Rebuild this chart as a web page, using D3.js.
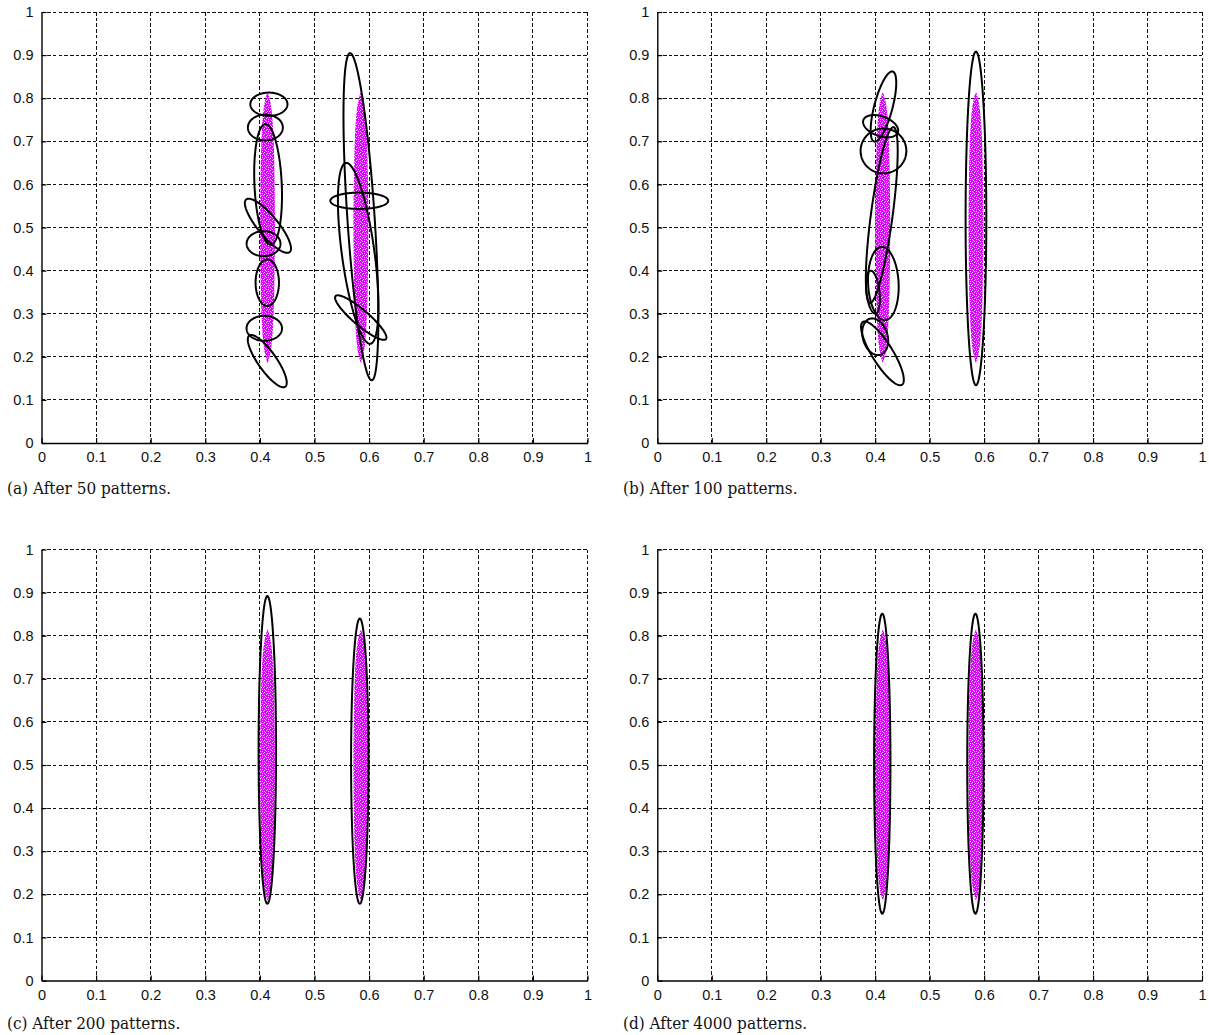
<!DOCTYPE html>
<html>
<head>
<meta charset="utf-8">
<script src="https://cdn.jsdelivr.net/npm/d3@7"></script>
<style>
  body { margin: 0; background: #fff; }
  svg { display: block; }
  .caption { font-family: "DejaVu Serif Condensed", "DejaVu Serif", serif; font-size: 17px; }
</style>
</head>
<body>
<svg id="fig" width="1209" height="1035"></svg>
<script>
// Axis ticks shared by all four panels
const tickValues = [0, 0.1, 0.2, 0.3, 0.4, 0.5, 0.6, 0.7, 0.8, 0.9, 1];
const tickLabels = ["0", "0.1", "0.2", "0.3", "0.4", "0.5", "0.6", "0.7", "0.8", "0.9", "1"];

const captions = [
  "(a) After 50 patterns.",
  "(b) After 100 patterns.",
  "(c) After 200 patterns.",
  "(d) After 4000 patterns."
];

// Two elongated input clusters: centre x of each band, and the band's
// half width (x units) at a set of heights (y units)
const clusterX = [0.414, 0.585];
const bandY =         [0.185, 0.20,  0.23,  0.27,  0.32,  0.40,  0.50,  0.60,  0.68,  0.74,  0.78,  0.80,  0.815];
const bandHalfWidth = [0.000, 0.004, 0.008, 0.010, 0.012, 0.013, 0.014, 0.013, 0.012, 0.010, 0.007, 0.004, 0.000];

// Category ellipses: [centre x, centre y, semi-major, semi-minor, major-axis angle in degrees]
const ellipsesA = [
  [0.4165, 0.786, 0.034, 0.027, 0],
  [0.410, 0.732, 0.032, 0.030, 0],
  [0.415, 0.600, 0.140, 0.025, 92],
  [0.4147, 0.504, 0.073, 0.020, 122],
  [0.4067, 0.4625, 0.031, 0.029, 0],
  [0.4135, 0.372, 0.054, 0.0214, 90],
  [0.408, 0.266, 0.0325, 0.029, 0],
  [0.4135, 0.190, 0.068, 0.018, 118],
  [0.585, 0.525, 0.380, 0.025, 93],
  [0.580, 0.440, 0.211, 0.030, 96],
  [0.582, 0.562, 0.053, 0.019, 0],
  [0.5847, 0.291, 0.068, 0.016, 132]
];

const ellipsesB = [
  [0.4152, 0.7806, 0.083, 0.017, 78.5],
  [0.410, 0.735, 0.035, 0.022, -30],
  [0.4152, 0.6777, 0.052, 0.042, 90],
  [0.4121, 0.529, 0.205, 0.020, 84],
  [0.415, 0.370, 0.085, 0.028, 92],
  [0.396, 0.350, 0.050, 0.012, 95],
  [0.400, 0.2466, 0.043, 0.023, 100],
  [0.4133, 0.208, 0.0813, 0.020, 115.4],
  [0.585, 0.521, 0.387, 0.019, 90]
];

const ellipsesC = [
  [0.4136, 0.535, 0.357, 0.016, 90],
  [0.583, 0.509, 0.331, 0.016, 90]
];

const ellipsesD = [
  [0.413, 0.503, 0.348, 0.015, 90],
  [0.584, 0.503, 0.348, 0.015, 90]
];

const panelEllipses = [ellipsesA, ellipsesB, ellipsesC, ellipsesD];

// Panel frames (pixel rectangles of the plotting area)
const frames = [
  { x0: 41.5,  x1: 587.5, yTop: 12,    yBot: 443 },
  { x0: 657.3, x1: 1202,  yTop: 12,    yBot: 443 },
  { x0: 41.5,  x1: 587.5, yTop: 549.5, yBot: 980.5 },
  { x0: 657.3, x1: 1202,  yTop: 549.5, yBot: 980.5 }
];
const captionPos = [
  { x: 7,   y: 494 },
  { x: 623, y: 494 },
  { x: 7,   y: 1029 },
  { x: 623, y: 1029 }
];

const svg = d3.select("#fig");
const defs = svg.append("defs");

// Speckled magenta fill for the dense point clouds
const pat = defs.append("pattern")
  .attr("id", "speckle")
  .attr("patternUnits", "userSpaceOnUse")
  .attr("width", 6).attr("height", 6);
pat.append("rect").attr("width", 6).attr("height", 6).attr("fill", "#dc00fb");
[[1,0],[4,1],[0,2],[3,3],[5,3],[2,4],[0,5],[4,5],[2,1]].forEach(([px, py]) => {
  pat.append("rect").attr("x", px).attr("y", py).attr("width", 1).attr("height", 1).attr("fill", "#f3d0ff");
});

function ellipsePoints(cx, cy, a, b, deg) {
  const th = deg * Math.PI / 180;
  const ct = Math.cos(th), st = Math.sin(th);
  return d3.range(0, 181).map(i => {
    const t = i / 180 * 2 * Math.PI;
    const u = a * Math.cos(t), v = b * Math.sin(t);
    return [cx + u * ct - v * st, cy + u * st + v * ct];
  });
}

frames.forEach((f, pi) => {
  const x = d3.scaleLinear().domain([0, 1]).range([f.x0, f.x1]);
  const y = d3.scaleLinear().domain([0, 1]).range([f.yBot, f.yTop]);
  const g = svg.append("g");

  // dashed grid
  const grid = g.append("g").attr("stroke", "#111").attr("stroke-width", 1)
    .attr("stroke-dasharray", "3.5,2.2").attr("shape-rendering", "crispEdges");
  tickValues.filter(v => v > 0).forEach(v => {
    grid.append("line").attr("x1", x(v)).attr("x2", x(v)).attr("y1", y(0)).attr("y2", y(1));
    grid.append("line").attr("y1", y(v)).attr("y2", y(v)).attr("x1", x(0)).attr("x2", x(1));
  });

  // point clouds as speckled bands
  clusterX.forEach(cx => {
    const area = d3.area()
      .y(d => y(d[0]))
      .x0(d => x(cx - d[1]))
      .x1(d => x(cx + d[1]))
      .curve(d3.curveBasis);
    g.append("path")
      .attr("d", area(bandY.map((v, i) => [v, bandHalfWidth[i]])))
      .attr("fill", "url(#speckle)");
  });

  // category ellipses
  const line = d3.line().x(d => x(d[0])).y(d => y(d[1]));
  panelEllipses[pi].forEach(e => {
    g.append("path")
      .attr("d", line(ellipsePoints(...e)) + "Z")
      .attr("fill", "none").attr("stroke", "#000").attr("stroke-width", 2);
  });

  // axes (left and bottom only)
  const xAxis = d3.axisBottom(x).tickValues(tickValues).tickFormat((d, i) => tickLabels[i])
    .tickSizeInner(-5).tickSizeOuter(0).tickPadding(9);
  const yAxis = d3.axisLeft(y).tickValues(tickValues).tickFormat((d, i) => tickLabels[i])
    .tickSizeInner(-5).tickSizeOuter(0).tickPadding(8);
  const gx = g.append("g").attr("transform", `translate(0,${f.yBot})`).call(xAxis);
  const gy = g.append("g").attr("transform", `translate(${f.x0},0)`).call(yAxis);
  [gx, gy].forEach(ax => {
    ax.attr("font-family", "Liberation Sans, Arial, Helvetica, sans-serif").attr("font-size", 14.5);
    ax.select(".domain").attr("stroke", "#000").attr("stroke-width", 1.4);
    ax.selectAll(".tick line").attr("stroke", "#000").attr("stroke-width", 1.2);
    ax.selectAll(".tick text").attr("fill", "#111")
      .style("font-family", "'Liberation Sans', Arial, Helvetica, sans-serif");
  });

  svg.append("text")
    .attr("class", "caption")
    .attr("x", captionPos[pi].x).attr("y", captionPos[pi].y)
    .attr("fill", "#111")
    .text(captions[pi]);
});
</script>
</body>
</html>
